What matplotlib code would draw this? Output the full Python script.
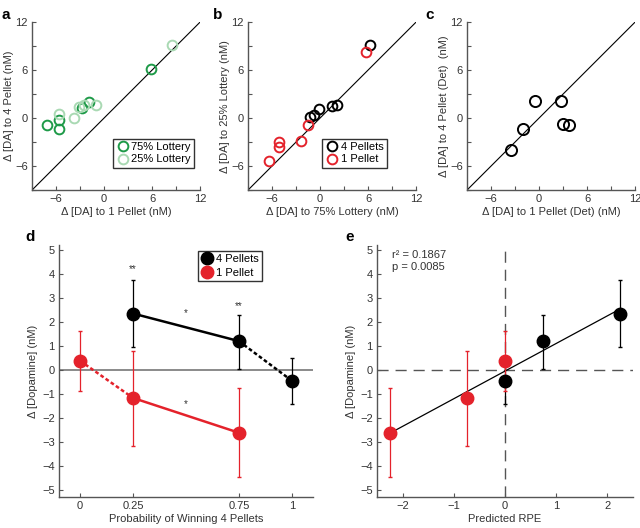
import numpy as np
import matplotlib
matplotlib.use("Agg")
import matplotlib.pyplot as plt
from matplotlib.ticker import MultipleLocator

# panel a: response to 4 pellet vs 1 pellet, per lottery
a_75_x = [-7.1, -5.6, -5.6, -2.8, -1.9, 5.9]
a_75_y = [-0.9, -0.2, -1.3, 1.25, 2.0, 6.2]
a_25_x = [-5.6, -3.7, -3.1, -2.5, -1.0, 8.5]
a_25_y = [0.5, 0.0, 1.4, 1.7, 1.7, 9.1]

# panel b: 25% vs 75% lottery, per outcome
b_4p_x = [6.3, -1.2, -0.7, -0.1, 1.5, 2.1]
b_4p_y = [9.1, 0.1, 0.4, 1.1, 1.5, 1.7]
b_1p_x = [5.8, -1.5, -2.4, -5.1, -5.1, -6.4]
b_1p_y = [8.3, -0.9, -2.8, -3.0, -3.6, -5.4]

# panel c: deterministic
c_x = [-3.5, -2.0, -0.5, 2.8, 3.0, 3.7]
c_y = [-4.0, -1.4, 2.2, 2.2, -0.7, -0.8]

# panels d/e: mean response with error bars
prob_4p = [0.25, 0.75, 1.0]
mean_4p = [2.35, 1.2, -0.45]
lo_4p = [0.97, 0.05, -1.42]
hi_4p = [3.75, 2.3, 0.48]
rpe_4p = [2.25, 0.75, 0.0]

prob_1p = [0.0, 0.25, 0.75]
mean_1p = [0.38, -1.17, -2.62]
lo_1p = [-0.88, -3.17, -4.48]
hi_1p = [1.62, 0.8, -0.77]
rpe_1p = [0.0, -0.75, -2.25]

GREEN = "#1e9a48"
LGREEN = "#a9d9b3"
RED = "#e4222b"
AX = "#555555"
TXT = "#333333"
FS = 8

plt.rcParams["font.family"] = ["Arial", "Liberation Sans", "DejaVu Sans"]
plt.rcParams["font.size"] = FS

fig = plt.figure(figsize=(6.4, 5.28), dpi=100)


def style(ax):
    for s in ["top", "right"]:
        ax.spines[s].set_visible(False)
    for s in ["left", "bottom"]:
        ax.spines[s].set_color(AX)
        ax.spines[s].set_linewidth(1.0)
    ax.tick_params(which="both", direction="in", colors=AX, labelcolor=TXT,
                   labelsize=FS, length=3, width=0.8, pad=3)


def scatter_panel(rect, xlabel, ylabel):
    ax = fig.add_axes(rect)
    style(ax)
    ax.plot([-9, 12], [-9, 12], color="black", lw=0.8)
    ax.set_xlim(-9, 12)
    ax.set_ylim(-9, 12)
    ax.xaxis.set_major_locator(MultipleLocator(6))
    ax.yaxis.set_major_locator(MultipleLocator(6))
    ax.xaxis.set_minor_locator(MultipleLocator(3))
    ax.yaxis.set_minor_locator(MultipleLocator(3))
    ax.set_xlabel(xlabel, color=TXT, fontsize=FS, labelpad=2)
    ax.set_ylabel(ylabel, color=TXT, fontsize=FS, labelpad=1)
    return ax


ms, mew = 7, 1.4
leg_kw = dict(fontsize=FS, handletextpad=0.2, handlelength=1.2, borderpad=0.3,
              fancybox=False, edgecolor="black", labelspacing=0.2)

ax_a = scatter_panel([0.05, 0.64, 0.2625, 0.318],
                     "Δ [DA] to 1 Pellet (nM)", "Δ [DA] to 4 Pellet (nM)")
ax_a.plot(a_75_x, a_75_y, "o", mfc="none", mec=GREEN, ms=ms, mew=mew,
          label="75% Lottery")
ax_a.plot(a_25_x, a_25_y, "o", mfc="none", mec=LGREEN, ms=ms, mew=mew,
          label="25% Lottery")
ax_a.legend(loc="lower right", bbox_to_anchor=(1.0, 0.1), **leg_kw)

ax_b = scatter_panel([0.3875, 0.64, 0.2625, 0.318],
                     "Δ [DA] to 75% Lottery (nM)", "Δ [DA] to 25% Lottery (nM)")
ax_b.plot(b_4p_x, b_4p_y, "o", mfc="none", mec="black", ms=ms, mew=mew,
          label="4 Pellets")
ax_b.plot(b_1p_x, b_1p_y, "o", mfc="none", mec=RED, ms=ms, mew=mew,
          label="1 Pellet")
ax_b.legend(loc="lower right", bbox_to_anchor=(0.86, 0.1), **leg_kw)

ax_c = scatter_panel([0.7297, 0.64, 0.2625, 0.318],
                     "Δ [DA] to 1 Pellet (Det) (nM)",
                     "Δ [DA] to 4 Pellet (Det)  (nM)")
ax_c.plot(c_x, c_y, "o", mfc="none", mec="black", ms=ms + 1, mew=mew)


def line_panel(rect):
    ax = fig.add_axes(rect)
    style(ax)
    ax.set_ylim(-5.3, 5.2)
    ax.set_yticks(range(-5, 6))
    ax.set_ylabel("Δ [Dopamine] (nM)", color=TXT, fontsize=FS, labelpad=3)
    return ax


err_4p = [np.array(mean_4p) - np.array(lo_4p), np.array(hi_4p) - np.array(mean_4p)]
err_1p = [np.array(mean_1p) - np.array(lo_1p), np.array(hi_1p) - np.array(mean_1p)]

ax_d = line_panel([0.092, 0.0587, 0.397, 0.477])
ax_d.set_xlim(-0.1, 1.1)
ax_d.set_xticks([0, 0.25, 0.75, 1])
ax_d.set_xticklabels(["0", "0.25", "0.75", "1"])
ax_d.axhline(0, color="#777777", lw=1.2, zorder=1)
ax_d.plot(prob_4p[:2], mean_4p[:2], color="black", lw=1.8, zorder=2)
ax_d.plot(prob_4p[1:], mean_4p[1:], color="black", lw=1.8, ls=(0, (1.5, 1)), zorder=2)
ax_d.plot(prob_1p[1:], mean_1p[1:], color=RED, lw=1.8, zorder=2)
ax_d.plot(prob_1p[:2], mean_1p[:2], color=RED, lw=1.8, ls=(0, (1.5, 1)), zorder=2)
ax_d.errorbar(prob_4p, mean_4p, yerr=err_4p, fmt="o", color="black",
              ms=9, elinewidth=0.9, capsize=1.5, zorder=3, label="4 Pellets")
ax_d.errorbar(prob_1p, mean_1p, yerr=err_1p, fmt="o", color=RED, ecolor=RED,
              ms=9, elinewidth=0.9, capsize=1.5, zorder=3, label="1 Pellet")
for x, y, s in [(0.25, 4.0, "**"), (0.75, 2.45, "**"), (0.5, 2.15, "*"), (0.5, -1.65, "*")]:
    ax_d.text(x, y, s, ha="center", va="bottom", fontsize=7, color=TXT)
ax_d.set_xlabel("Probability of Winning 4 Pellets", color=TXT, fontsize=FS, labelpad=2)
h, l = ax_d.get_legend_handles_labels()
ax_d.legend([hh[0] for hh in h], l, loc="upper right", bbox_to_anchor=(0.82, 1.0),
            fontsize=FS, handletextpad=0.3, handlelength=1.0, borderpad=0.3,
            fancybox=False, edgecolor="black", labelspacing=0.35)

ax_e = line_panel([0.589, 0.0587, 0.4, 0.477])
ax_e.set_xlim(-2.5, 2.5)
ax_e.set_xticks([-2, -1, 0, 1, 2])
ax_e.axhline(0, color="#555555", lw=1.0, ls=(0, (8, 5)), zorder=1)
ax_e.axvline(0, color="#555555", lw=1.0, ls=(0, (8, 5)), zorder=1)
rpe_all = np.array(rpe_1p + rpe_4p)
mean_all = np.array(mean_1p + mean_4p)
slope, icpt = np.polyfit(rpe_all, mean_all, 1)
xf = np.array([rpe_all.min(), rpe_all.max()])
ax_e.plot(xf, slope * xf + icpt, color="black", lw=0.9, zorder=2)
ax_e.errorbar(rpe_4p, mean_4p, yerr=err_4p, fmt="o", color="black",
              ms=9, elinewidth=0.9, capsize=1.5, zorder=3)
ax_e.errorbar(rpe_1p, mean_1p, yerr=err_1p, fmt="o", color=RED, ecolor=RED,
              ms=9, elinewidth=0.9, capsize=1.5, zorder=3)
ax_e.text(-2.2, 4.55, "r² = 0.1867\np = 0.0085", ha="left", va="center",
          fontsize=FS, color=TXT, linespacing=1.3)
ax_e.set_xlabel("Predicted RPE", color=TXT, fontsize=FS, labelpad=2)

for x, y, s in [(0.003, 0.985, "a"), (0.333, 0.985, "b"), (0.664, 0.985, "c"),
                (0.04, 0.565, "d"), (0.54, 0.565, "e")]:
    fig.text(x, y, s, fontsize=11, fontweight="bold", va="top", ha="left")

fig.savefig("out.png", dpi=100)
